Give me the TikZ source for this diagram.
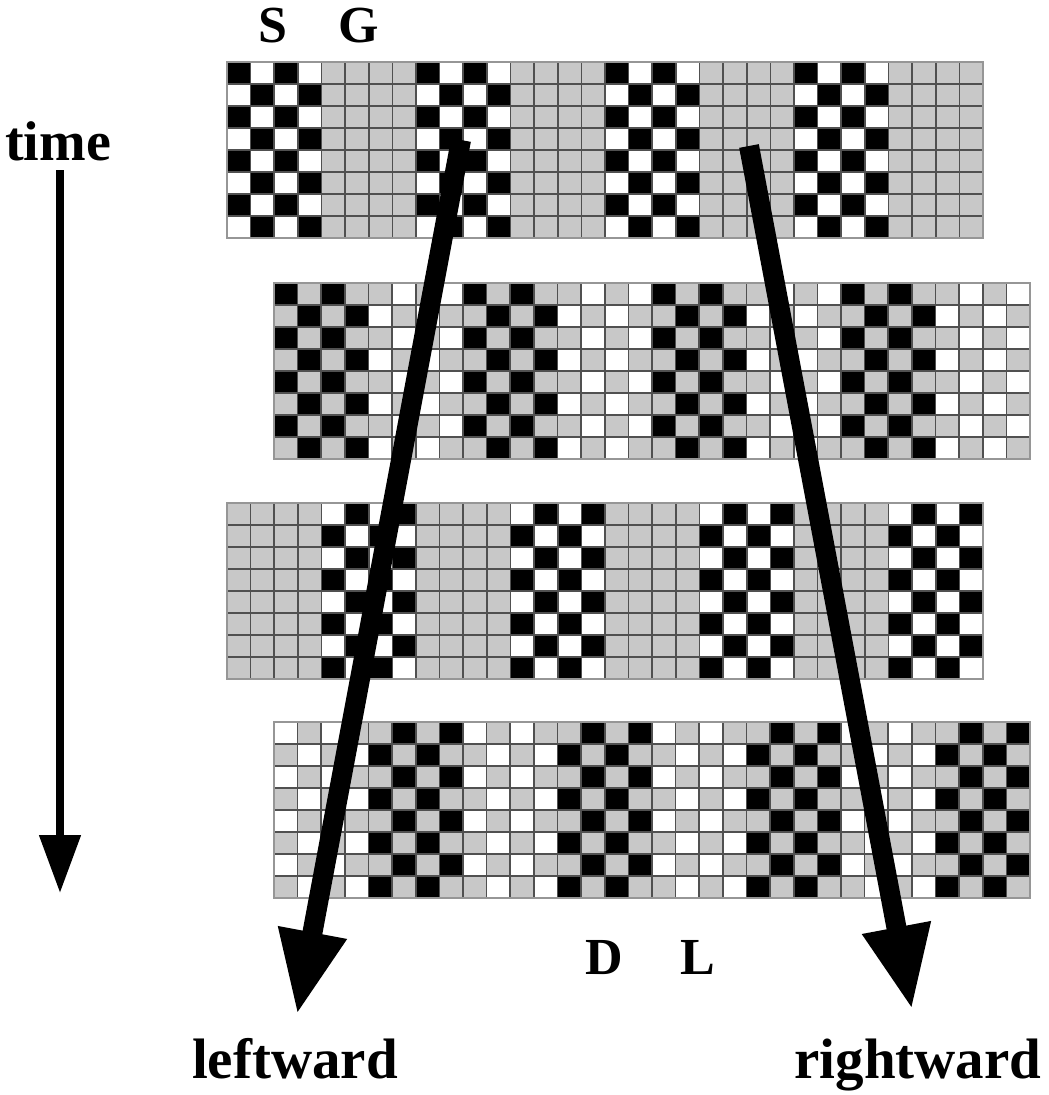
\documentclass[tikz,border=0pt]{standalone}
\usepackage{fontspec}
\setmainfont{Liberation Serif}
\usetikzlibrary{arrows.meta}

\definecolor{cellgray}{RGB}{200,200,200}
\definecolor{linegray}{RGB}{80,80,80}
\definecolor{edgegray}{RGB}{150,150,150}

% One band of 32 x 8 cells.
% #1,#2: top-left corner; #3: 0 if the checker blocks start at column 0, 1 if at column 4
% #4/#5: colours of even/odd cells inside checker blocks
% #6/#7: colours of even/odd cells in the other blocks
\newcommand\gridband[7]{%
  \foreach \c in {0,...,31}{%
    \foreach \r in {0,...,7}{%
      \pgfmathtruncatemacro\blk{mod(floor(\c/4)+#3,2)}%
      \pgfmathtruncatemacro\cellpar{mod(\c+\r,2)}%
      \ifnum\blk=0
        \ifnum\cellpar=0 \def\cellcol{#4}\else\def\cellcol{#5}\fi
      \else
        \ifnum\cellpar=0 \def\cellcol{#6}\else\def\cellcol{#7}\fi
      \fi
      \fill[\cellcol] (#1+\c*23.625,#2+\r*22) rectangle ++(23.625,22);
    }%
  }%
  \foreach \c in {1,...,31}{\draw[gridline] (#1+\c*23.625,#2) -- ++(0,176);}%
  \foreach \r in {1,...,7}{\draw[gridline] (#1,#2+\r*22) -- ++(756,0);}%
  \draw[bandedge] (#1,#2) rectangle ++(756,176);
}

\begin{document}
\begin{tikzpicture}[x=1pt,y=-1pt,
  gridline/.style={linegray,line width=1.7pt},
  bandedge/.style={edgegray,line width=1.4pt},
  label/.style={font=\fontsize{52}{56}\selectfont\bfseries,anchor=base,inner sep=0pt},
  biglabel/.style={font=\fontsize{57}{60}\selectfont\bfseries,anchor=base,inner sep=0pt},
  bigarrow/.style={black,line width=20pt,-{Triangle[length=84pt,width=64pt]}},
  timearrow/.style={black,line width=8pt,-{Triangle[length=58pt,width=40pt]}}]

\fill[white] (0,0) rectangle (1049,1095);
\useasboundingbox (0,0) rectangle (1049,1095);

% four bands of cells
\gridband{227}{62}{0}{black}{white}{cellgray}{cellgray}
\gridband{274}{283}{0}{black}{cellgray}{cellgray}{white}
\gridband{227}{503}{1}{white}{black}{cellgray}{cellgray}
\gridband{274}{722}{1}{cellgray}{black}{white}{cellgray}

% labels
\node[label] (S) at (273,42) {S};
\node[label] (G) at (359,42) {G};
\node[biglabel,font=\fontsize{56}{58}\selectfont\bfseries] (time) at (58,160) {time};
\node[label] (D) at (604,974) {D};
\node[label] (L) at (698,974) {L};
\node[biglabel] (left) at (295,1078) {leftward};
\node[biglabel] (right) at (918,1078) {rightward};

% arrows
\coordinate (tstart) at (60,170);
\coordinate (tend) at (60,893);
\coordinate (lstart) at (461,140);
\coordinate (lend) at (297,1015);
\coordinate (rstart) at (749,146);
\coordinate (rend) at (912,1010);

\draw[timearrow] (tstart) -- (tend);
\draw[bigarrow] (lstart) -- (lend);
\draw[bigarrow] (rstart) -- (rend);
\end{tikzpicture}
\end{document}
